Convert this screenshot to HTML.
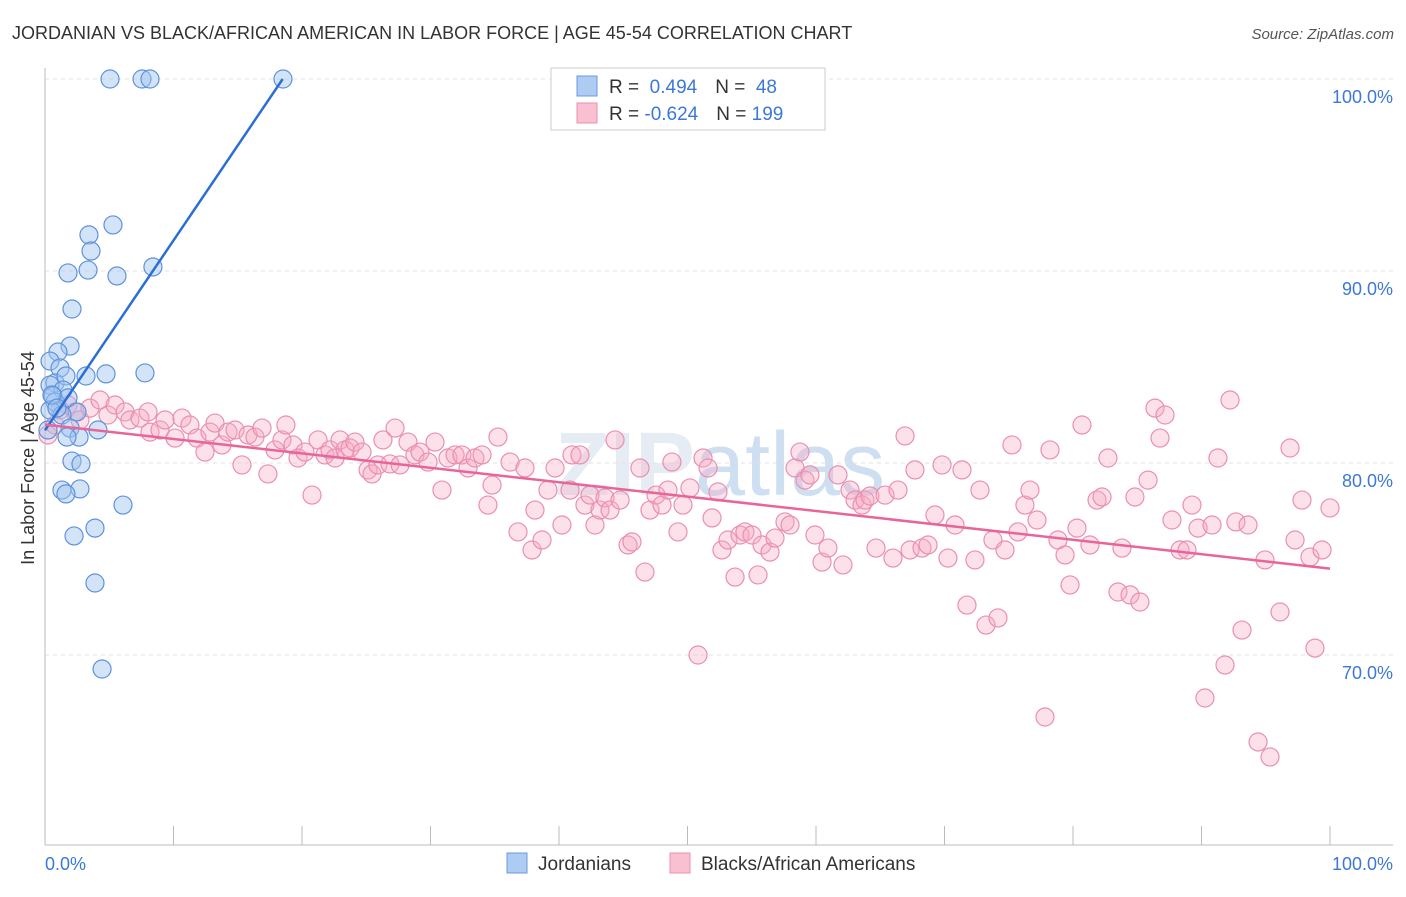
<!DOCTYPE html>
<html><head><meta charset="utf-8"><style>
body{margin:0;background:#fff;font-family:"Liberation Sans",sans-serif;}
svg text{font-family:"Liberation Sans",sans-serif;}
</style></head><body>
<svg width="1406" height="892">
<text x="12" y="39" font-size="18" fill="#333">JORDANIAN VS BLACK/AFRICAN AMERICAN IN LABOR FORCE | AGE 45-54 CORRELATION CHART</text>
<text x="1394" y="39" font-size="15" fill="#555" font-style="italic" text-anchor="end">Source: ZipAtlas.com</text>
<text x="555" y="495" font-size="90" fill="#e6ecf4" font-weight="bold">ZIP<tspan font-weight="normal" fill="#cfdff2">atlas</tspan></text>
<g id="grid"></g>
<line x1="45" y1="68" x2="45" y2="845" stroke="#bbb"/>
<line x1="45" y1="845" x2="1393" y2="845" stroke="#bbb"/>
<g id="ticks"></g>
<text x="34" y="458" font-size="18" fill="#333" text-anchor="middle" transform="rotate(-90 34 458)">In Labor Force | Age 45-54</text>
<text x="45" y="870" font-size="18" fill="#3b78d8">0.0%</text>
<text x="1393" y="870" font-size="18" fill="#3b78d8" text-anchor="end">100.0%</text>
<g id="pink"></g><g id="blue"></g><g id="trends"></g>
<g>
<rect x="551" y="68" width="274" height="62" fill="#fff" stroke="#ccc"/>
<rect x="577" y="76" width="20" height="20" fill="#aecbf2" stroke="#6a9ae0"/>
<rect x="577" y="103" width="20" height="20" fill="#f8c0d0" stroke="#eb92ae"/>
<text x="609" y="93" font-size="19" fill="#333">R = <tspan fill="#3b78d8">&#160;0.494</tspan><tspan dx="18">N = </tspan><tspan fill="#3b78d8">&#160;48</tspan></text>
<text x="609" y="120" font-size="19" fill="#333">R = <tspan fill="#3b78d8">-0.624</tspan><tspan dx="18">N = </tspan><tspan fill="#3b78d8">199</tspan></text>
</g>
<g>
<rect x="507" y="853" width="20" height="20" fill="#aecbf2" stroke="#6a9ae0"/>
<text x="538" y="870" font-size="19" fill="#333">Jordanians</text>
<rect x="670" y="853" width="20" height="20" fill="#f8c0d0" stroke="#eb92ae"/>
<text x="701" y="870" font-size="19" fill="#333">Blacks/African Americans</text>
</g>
</svg>
<script>
const yTicks=[100,90,80,70];
const xTicks=[10,20,30,40,50,60,70,80,90,100];
const bluePx=[[110,79],[142,79],[150,79],[283,79],[113,225],[89,235],[91,251],[68,273],[88,270],[117,276],[153,267],[72,309],[70,346],[58,352],[50,361],[60,368],[106,374],[86,376],[145,373],[55,383],[66,376],[50,385],[63,390],[53,396],[55,402],[50,410],[68,398],[77,412],[62,415],[70,428],[79,437],[98,430],[67,437],[72,461],[81,464],[62,490],[80,489],[66,494],[123,505],[95,528],[74,536],[95,583],[102,669],[48,430],[52,395],[57,408]];
const pinkPx=[[48,435],[55,425],[60,410],[68,405],[75,412],[80,420],[90,408],[100,400],[108,415],[115,405],[125,412],[130,420],[140,418],[148,412],[150,432],[160,430],[165,420],[175,438],[182,418],[190,425],[197,438],[205,452],[210,432],[215,423],[222,445],[228,432],[235,430],[242,465],[248,435],[255,437],[262,428],[268,474],[275,450],[282,440],[286,425],[293,445],[298,458],[305,452],[312,495],[318,440],[325,455],[330,450],[335,458],[340,440],[345,450],[350,448],[355,442],[362,452],[368,470],[372,474],[378,465],[383,440],[390,464],[395,428],[400,465],[408,442],[415,455],[420,452],[428,462],[435,442],[442,490],[448,458],[455,455],[462,455],[468,468],[475,458],[482,455],[488,505],[492,485],[498,437],[510,462],[518,532],[525,468],[532,550],[535,510],[542,540],[548,490],[555,468],[562,525],[570,490],[572,455],[580,455],[585,505],[590,495],[595,525],[600,510],[605,498],[610,510],[615,440],[620,500],[628,545],[632,542],[640,468],[645,572],[650,510],[656,495],[662,505],[668,490],[672,462],[678,532],[683,505],[690,488],[698,655],[703,458],[708,468],[712,518],[718,492],[722,550],[728,540],[735,577],[740,535],[745,532],[752,535],[758,575],[762,545],[770,552],[775,538],[785,522],[790,525],[795,468],[800,452],[805,480],[810,475],[815,535],[822,562],[828,548],[838,475],[843,565],[850,490],[855,500],[862,505],[865,500],[870,496],[876,548],[885,495],[893,558],[898,490],[905,436],[910,550],[915,470],[922,548],[928,545],[935,515],[942,465],[948,558],[955,525],[962,470],[967,605],[975,560],[980,490],[986,625],[993,540],[998,618],[1005,550],[1012,445],[1018,532],[1025,505],[1030,490],[1037,520],[1045,717],[1050,450],[1058,540],[1065,555],[1070,585],[1077,528],[1082,425],[1090,545],[1097,500],[1102,497],[1108,458],[1118,592],[1122,548],[1130,595],[1135,497],[1140,602],[1148,480],[1155,408],[1160,438],[1165,415],[1172,520],[1180,550],[1187,550],[1192,505],[1198,528],[1205,698],[1212,525],[1218,458],[1225,665],[1230,400],[1236,522],[1242,630],[1248,525],[1258,742],[1265,560],[1270,757],[1280,612],[1290,448],[1295,540],[1302,500],[1310,557],[1315,648],[1322,550],[1330,508]];
// convert to data values (percent)
const blueX=bluePx.map(p=>+((p[0]-45)/12.85).toFixed(2));
const blueY=bluePx.map(p=>+(100-(p[1]-79)/19.2).toFixed(2));
const pinkX=pinkPx.map(p=>+((p[0]-45)/12.85).toFixed(2));
const pinkY=pinkPx.map(p=>+(100-(p[1]-79)/19.2).toFixed(2));
const blueTrend=[[0,81.7],[18.5,100]];
const pinkTrend=[[0,82.0],[100,74.5]];
const NS="http://www.w3.org/2000/svg";
function sx(v){return 45+v*12.85;}
function sy(v){return 79+(100-v)*19.2;}
function mk(t,a,parent){const e=document.createElementNS(NS,t);for(const k in a)e.setAttribute(k,a[k]);document.getElementById(parent).appendChild(e);return e;}
yTicks.forEach(t=>{
  const l=mk('line',{x1:45,x2:1393,y1:sy(t),y2:sy(t),stroke:'#e2e2e2','stroke-dasharray':'4 4'},'grid');
  
  
  const tx=mk('text',{x:1393,y:sy(t)+24,'font-size':18,fill:'#3b78d8','text-anchor':'end'},'grid');
  tx.textContent=t.toFixed(1)+'%';
  
  
});
xTicks.forEach(t=>{
  const l=mk('line',{x1:sx(t),x2:sx(t),y1:826,y2:845,stroke:'#bbb'},'ticks');
  
  
});
pinkX.forEach((x,i)=>{
  const c=mk('circle',{cx:sx(x),cy:sy(pinkY[i]),r:9,fill:'rgba(245,170,195,0.35)',stroke:'#eb8fae','stroke-width':1.2},'pink');
  
  
});
blueX.forEach((x,i)=>{
  const c=mk('circle',{cx:sx(x),cy:sy(blueY[i]),r:9,fill:'rgba(160,195,240,0.45)',stroke:'#5d92dc','stroke-width':1.2},'blue');
  
  
});
const bt=mk('line',{x1:sx(blueTrend[0][0]),y1:sy(blueTrend[0][1]),x2:sx(blueTrend[1][0]),y2:sy(blueTrend[1][1]),stroke:'#2a6fd6','stroke-width':2.5},'trends');


const pt=mk('line',{x1:sx(pinkTrend[0][0]),y1:sy(pinkTrend[0][1]),x2:sx(pinkTrend[1][0]),y2:sy(pinkTrend[1][1]),stroke:'#e8659a','stroke-width':2.5},'trends');


</script>
</body></html>
